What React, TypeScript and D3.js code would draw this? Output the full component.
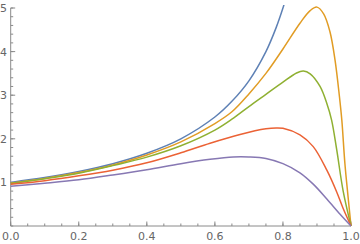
import React from "react";
import * as d3 from "d3";

const W = 360;
const H = 244;

const blueX = [0, 0.1, 0.2, 0.3, 0.4, 0.5, 0.6, 0.65, 0.7, 0.75, 0.78, 0.8, 0.81];
const blueY = [1, 1.11, 1.25, 1.43, 1.67, 2.0, 2.5, 2.86, 3.33, 4.0, 4.55, 5.0, 5.26];

const orangeX = [0, 0.1, 0.2, 0.3, 0.4, 0.5, 0.6, 0.65, 0.7, 0.75, 0.8, 0.85, 0.88, 0.9, 0.92, 0.938, 0.953, 0.966, 0.973, 0.982, 0.991, 1.0];
const orangeY = [0.98, 1.09, 1.225, 1.4, 1.63, 1.93, 2.35, 2.62, 3.03, 3.5, 4.06, 4.65, 4.94, 5.02, 4.86, 4.46, 3.81, 2.97, 2.43, 1.44, 0.7, 0];

const greenX = [0, 0.1, 0.2, 0.3, 0.4, 0.5, 0.6, 0.65, 0.7, 0.75, 0.8, 0.84, 0.86, 0.88, 0.909, 0.929, 0.943, 0.958, 0.977, 1.0];
const greenY = [0.975, 1.085, 1.21, 1.385, 1.58, 1.84, 2.2, 2.45, 2.74, 3.02, 3.3, 3.51, 3.555, 3.49, 3.2, 2.81, 2.43, 1.75, 0.8, 0];

const redX = [0, 0.1, 0.2, 0.3, 0.4, 0.5, 0.586, 0.674, 0.75, 0.78, 0.8, 0.85, 0.889, 0.929, 0.958, 0.977, 1.0];
const redY = [0.955, 1.04, 1.15, 1.28, 1.45, 1.68, 1.9, 2.1, 2.23, 2.25, 2.24, 2.09, 1.82, 1.28, 0.78, 0.4, 0];

const purpleX = [0, 0.1, 0.2, 0.3, 0.4, 0.5, 0.586, 0.654, 0.7, 0.75, 0.8, 0.85, 0.889, 0.929, 0.968, 1.0];
const purpleY = [0.91, 0.98, 1.06, 1.17, 1.29, 1.43, 1.53, 1.585, 1.585, 1.55, 1.43, 1.22, 0.96, 0.62, 0.27, 0];

const seriesList = [
  { xs: blueX, ys: blueY, color: "#5E81B5" },
  { xs: orangeX, ys: orangeY, color: "#E19C24" },
  { xs: greenX, ys: greenY, color: "#8FB032" },
  { xs: redX, ys: redY, color: "#EB6235" },
  { xs: purpleX, ys: purpleY, color: "#8778B3" },
];

const xTicks = [0, 0.2, 0.4, 0.6, 0.8, 1.0];
const yTicks = [1, 2, 3, 4, 5];

export default function App() {
  const x = d3.scaleLinear().domain([0, 1]).range([10.7, 351]);
  const y = d3.scaleLinear().domain([0, 5]).range([226, 8]);
  const line = d3
    .line<[number, number]>()
    .x((d) => x(d[0]))
    .y((d) => y(d[1]))
    .curve(d3.curveCatmullRom.alpha(0.5));

  const xMinor = d3.range(0, 1.0001, 0.05);
  const yMinor = d3.range(0, 5.0001, 0.2);
  const axisColor = "#8a8a8a";
  const labelColor = "#666";
  const font = "DejaVu Sans, sans-serif";

  return (
    <svg width={W} height={H} style={{ position: "absolute", left: 0, top: 0, background: "#fff" }}>
      <defs>
        <clipPath id="plotclip">
          <rect x={0} y={5} width={W} height={226 - 5 + 1} />
        </clipPath>
      </defs>
      <line x1={x(0)} x2={x(1)} y1={226} y2={226} stroke={axisColor} strokeWidth={1} />
      {xMinor.map((t, i) => (
        <line key={"xm" + i} x1={x(t)} x2={x(t)} y1={226} y2={226 - 2.5} stroke={axisColor} strokeWidth={1} />
      ))}
      {xTicks.map((t, i) => (
        <g key={"xt" + i}>
          <line x1={x(t)} x2={x(t)} y1={226} y2={226 - 4.5} stroke={axisColor} strokeWidth={1} />
          <text x={x(t)} y={240} textAnchor="middle" fontFamily={font} fontSize={11} fill={labelColor}>
            {t.toFixed(1)}
          </text>
        </g>
      ))}
      <line x1={x(0)} x2={x(0)} y1={226} y2={y(5)} stroke={axisColor} strokeWidth={1} />
      {yMinor.map((t, i) => (
        <line key={"ym" + i} x1={x(0)} x2={x(0) + 2.5} y1={y(t)} y2={y(t)} stroke={axisColor} strokeWidth={1} />
      ))}
      {yTicks.map((t, i) => (
        <g key={"yt" + i}>
          <line x1={x(0)} x2={x(0) + 4.5} y1={y(t)} y2={y(t)} stroke={axisColor} strokeWidth={1} />
          <text x={7} y={y(t) + 4} textAnchor="end" fontFamily={font} fontSize={11} fill={labelColor}>
            {t}
          </text>
        </g>
      ))}
      <g clipPath="url(#plotclip)">
        {seriesList.map((s, i) => (
          <path
            key={i}
            d={line(s.xs.map((v, j) => [v, s.ys[j]] as [number, number])) || ""}
            fill="none"
            stroke={s.color}
            strokeWidth={1.5}
          />
        ))}
      </g>
    </svg>
  );
}
